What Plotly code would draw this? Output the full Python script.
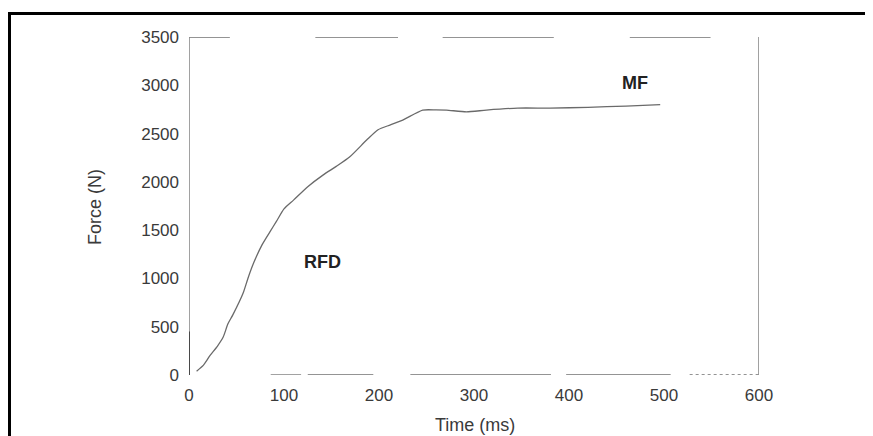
import plotly.graph_objects as go

# ---- data ----
time_ms = [8, 15, 22, 30, 36, 41, 46, 57, 62, 68, 77, 85, 92, 100, 110, 125, 141, 155, 169, 187,
           199, 212, 225, 246, 260, 271, 292, 313, 346, 380, 420, 460, 496]
force_n = [40, 100, 200, 300, 393, 530, 620, 849, 1000, 1159, 1350, 1480, 1590, 1720, 1811, 1950,
           2070, 2160, 2257, 2433, 2540, 2590, 2640, 2743, 2745, 2743, 2725, 2743, 2764, 2764,
           2772, 2785, 2800]
x_ticks = [0, 100, 200, 300, 400, 500, 600]
y_ticks = [0, 500, 1000, 1500, 2000, 2500, 3000, 3500]
labels = {"RFD": (140, 1170), "MF": (469, 3023)}

# broken frame segments of the scanned original (ms)
top_segments = [(0, 43), (133, 220), (267, 384), (464, 549)]
bottom_segments = [(86, 118), (125, 194), (233, 381), (397, 507), (527, 600)]

FONT = "Liberation Sans, Arial, sans-serif"
TXT = "#3a3a3a"

# the page body has an 8px margin, so the figure is offset by (8, 8)
L, T, PW, PH = 181, 29, 570, 338
W, H = 865, 428
Y0 = T + PH  # figure y of the zero line


def px(x):
    return (x - L) / PW


def py(y):
    return (Y0 - y) / PH


fig = go.Figure()
fig.add_trace(go.Scatter(x=time_ms, y=force_n, mode="lines", line_shape="spline",
                         line=dict(color="#6a6a6a", width=1.3, smoothing=0.6),
                         hoverinfo="skip", showlegend=False))

shapes = []
for a, b in top_segments:
    shapes.append(dict(type="line", xref="x", yref="y", x0=a, x1=b, y0=3500, y1=3500,
                       line=dict(color="#707070", width=1.3)))
for a, b in bottom_segments:
    shapes.append(dict(type="line", xref="x", yref="y", x0=a, x1=b, y0=0, y1=0,
                       line=dict(color="#707070", width=1.3,
                                 dash="dot" if b == 600 else "solid")))
for xv in (0, 600):
    shapes.append(dict(type="line", xref="x", yref="y", x0=xv, x1=xv, y0=0, y1=3500,
                       line=dict(color="#8a8a8a", width=1.6)))
shapes.append(dict(type="line", xref="x", yref="y", x0=0, x1=0, y0=0, y1=450,
                   line=dict(color="#333333", width=1.6)))
# outer border
shapes.append(dict(type="rect", xref="paper", yref="paper",
                   x0=px(1.5), x1=px(861), y0=py(440), y1=py(5.5),
                   line=dict(color="black", width=3)))

annotations = []
for txt, (tx, fy) in labels.items():
    annotations.append(dict(x=tx, y=fy, xref="x", yref="y", text=f"<b>{txt}</b>",
                            showarrow=False, font=dict(family=FONT, size=18, color="#222")))
annotations.append(dict(x=px(467), y=py(417), xref="paper", yref="paper",
                        xanchor="center", yanchor="middle",
                        text="Time (ms)", showarrow=False,
                        font=dict(family=FONT, size=18, color=TXT)))
annotations.append(dict(x=px(87), y=py(199), xref="paper", yref="paper",
                        xanchor="center", yanchor="middle",
                        text="Force (N)", textangle=-90, showarrow=False,
                        font=dict(family=FONT, size=18, color=TXT)))

fig.update_layout(
    width=W, height=H,
    margin=dict(l=L, r=W - L - PW, t=T, b=H - T - PH),
    paper_bgcolor="white", plot_bgcolor="white",
    shapes=shapes, annotations=annotations,
    xaxis=dict(range=[0, 600], tickvals=x_ticks, showgrid=False, zeroline=False,
               showline=False, ticks="", ticklabelstandoff=8,
               tickfont=dict(family=FONT, size=17, color=TXT)),
    yaxis=dict(range=[0, 3500], tickvals=y_ticks, showgrid=False, zeroline=False,
               showline=False, ticks="", ticklabelstandoff=9,
               tickfont=dict(family=FONT, size=17, color=TXT)),
)

fig.write_html("out.html")
